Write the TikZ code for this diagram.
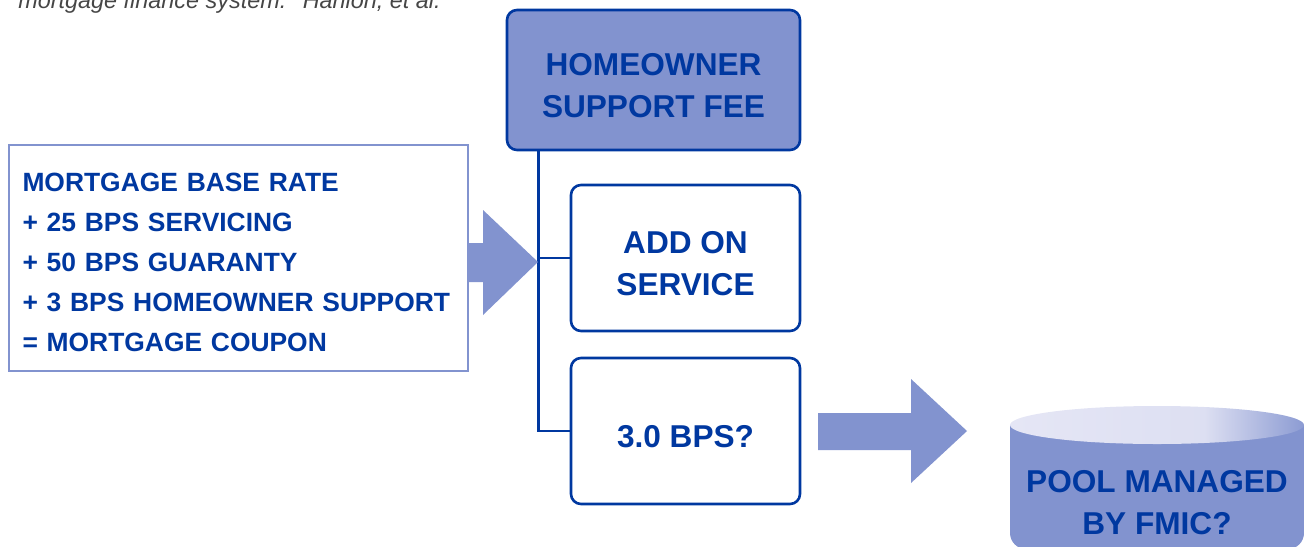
\documentclass[tikz,border=0pt]{standalone}
\usepackage{fontspec}
\setmainfont{Liberation Sans}
\usetikzlibrary{positioning,shapes,arrows}

\definecolor{navy}{RGB}{0,56,160}
\definecolor{lav}{RGB}{130,147,207}
\definecolor{lavlight}{RGB}{229,230,245}
\definecolor{capgray}{RGB}{70,70,70}
\pgfdeclarehorizontalshading{cyltop}{100bp}{color(0bp)=(lavlight); color(25bp)=(lavlight); color(58bp)=(lavlight!92!lav); color(75bp)=(lav!90!lavlight); color(100bp)=(lav!90!lavlight)}

\begin{document}
\begin{tikzpicture}[x=0.5pt,y=-0.5pt,
	box/.style={draw=navy,line width=1.3pt,rounded corners=5pt,align=center,text=navy,
		minimum width=114.5pt,minimum height=73pt,font=\bfseries\fontsize{15.8}{21}\selectfont},
	blockarrow/.style={fill=lav}]
\useasboundingbox (0,0) rectangle (1304,546);
\clip (0,0) rectangle (1304,546);

\node[anchor=base west,inner sep=0,text=capgray,font=\itshape\fontsize{11.7}{13}\selectfont] (cap) at (18,9) {mortgage finance system.” Hanlon, et al.};

% left rate box
\node[draw=lav,line width=1pt,fill=white,minimum width=229.5pt,minimum height=113pt,text width=216pt,align=left,
	inner xsep=6.5pt,text=navy,font=\bfseries\fontsize{13.2}{20}\selectfont] (rate) at (238.5,258)
	{\rule{0pt}{14pt}MORTGAGE BASE RATE\\+ 25 BPS SERVICING\\+ 50 BPS GUARANTY\\+ 3 BPS HOMEOWNER SUPPORT\\= MORTGAGE COUPON};

% fee and its two branches
\node[box,fill=lav,minimum width=146.5pt,minimum height=70pt] (fee) at (653.5,80) {\rule{0pt}{17pt}HOMEOWNER\\SUPPORT FEE};
\node[box,fill=white] (addon) at (685.5,258) {\rule{0pt}{17pt}ADD ON\\SERVICE};
\node[box,fill=white] (bps) at (685.5,431) {\rule{0pt}{17pt}3.0 BPS?};

\coordinate (trunk) at ([xshift=16.5pt]fee.south west);
\draw[navy,line width=1.3pt] (trunk) |- (bps.west);
\draw[navy,line width=1.3pt] (addon.west) -- (addon.west -| trunk);

% block arrows
\fill[blockarrow] (rate.east |- 0,243) -- (483,243) -- (483,210) -- (538,262) -- (483,315) -- (483,282) -- (rate.east |- 0,282) -- cycle;
\fill[blockarrow] (818,413) -- (911,413) -- (911,379) -- (967,431) -- (911,483) -- (911,450) -- (818,450) -- cycle;

% pool cylinder
\fill[lav] (1010,425) [rounded corners=8pt] -- (1010,549) -- (1304,549) [sharp corners] -- (1304,425) -- cycle;
\shade[shading=cyltop] (1157,425) ellipse [x radius=147,y radius=19];
\node[align=center,text=navy,font=\bfseries\fontsize{15.8}{21}\selectfont] (pool) at (1157,503) {POOL MANAGED\\BY FMIC?};
\end{tikzpicture}
\end{document}
